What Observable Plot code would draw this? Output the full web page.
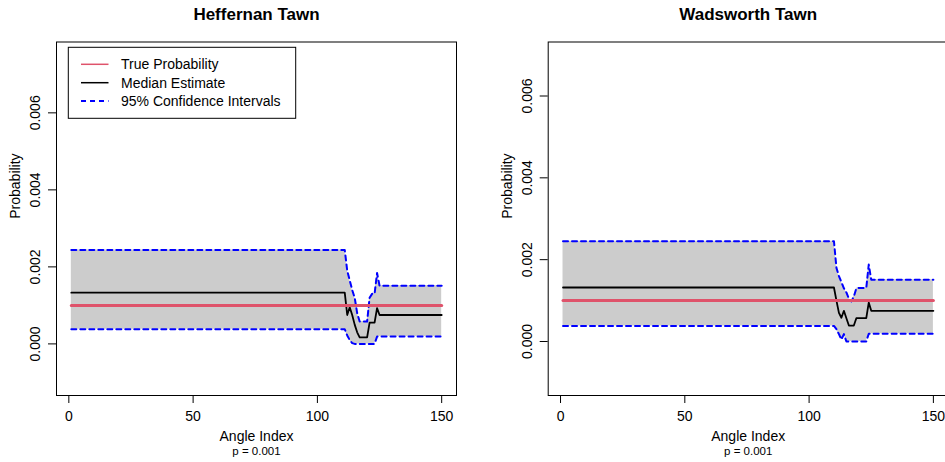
<!DOCTYPE html>
<html>
<head>
<meta charset="utf-8">
<script src="https://cdn.jsdelivr.net/npm/d3@7"></script>
<script src="https://cdn.jsdelivr.net/npm/@observablehq/plot@0.6"></script>
<style>
  html, body { margin: 0; padding: 0; background: white; }
  #wrap { position: relative; width: 945px; height: 462px; overflow: hidden; background: white; }
  #wrap > svg { position: absolute; top: 0; }
</style>
</head>
<body>
<div id="wrap"></div>
<script>
// ---- data ----
const angleIndex = [1,110,111,112,113,114,115,116,117,118,119,120,121,122,123,124,125,150];
const trueProbability = 0.001;

const htUpper  = [0.00244,0.00244,0.00244,0.0019,0.00165,0.0014,0.0012,0.0008,0.00058,0.00058,0.00058,0.00058,0.0012,0.0013,0.0013,0.00184,0.00151,0.00151];
const htMedian = [0.00133,0.00133,0.00133,0.00075,0.00095,0.00075,0.0005,0.0003,0.00017,0.00017,0.00017,0.00017,0.00055,0.00055,0.00055,0.00093,0.00075,0.00075];
const htLower  = [0.00038,0.00038,0.00038,0.00022,0.0001,0.00002,0,0,0,0,0,0,0,0,0,0.00019,0.00019,0.00019];

const wtUpper  = [0.00245,0.00245,0.0018,0.0016,0.00145,0.0013,0.0012,0.00105,0.00098,0.0011,0.0013,0.00131,0.00131,0.00131,0.00131,0.00188,0.00151,0.00151];
const wtMedian = [0.00132,0.00132,0.001,0.0007,0.00058,0.00075,0.00057,0.00039,0.00039,0.00039,0.00057,0.00057,0.00057,0.00057,0.00057,0.00095,0.00075,0.00075];
const wtLower  = [0.00038,0.00038,0.0003,0.00018,0.00005,0.00018,0,0,0,0,0,0,0,0,0,0.00019,0.00019,0.00019];

const panelTitles = ["Heffernan Tawn", "Wadsworth Tawn"];
const xTicks = [0, 50, 100, 150];
const yTicks = [0, 0.002, 0.004, 0.006];
const xLabel = "Angle Index";
const yLabel = "Probability";
const subLabel = "p = 0.001";
const legendLabels = ["True Probability", "Median Estimate", "95% Confidence Intervals"];

// ---- drawing ----
const FONT = "'Liberation Sans', Arial, Helvetica, sans-serif";
const RED = "#DF536B";

function panel({title, upper, median, lower, yDomain, width, marginLeft, marginRight}) {
  const rows = angleIndex.map((x, i) => ({x, upper: upper[i], median: median[i], lower: lower[i]}));
  return Plot.plot({
    width, height: 462,
    marginTop: 41.5, marginBottom: 67, marginLeft, marginRight,
    x: {domain: [-4.96, 155.96], label: null},
    y: {domain: yDomain, label: null},
    style: {fontFamily: FONT, fontSize: "14px", color: "black", background: "transparent", overflow: "visible"},
    marks: [
      Plot.areaY(rows, {x: "x", y1: "lower", y2: "upper", fill: "#cccccc"}),
      Plot.line(rows, {x: "x", y: "upper", stroke: "blue", strokeWidth: 2, strokeDasharray: "5,4"}),
      Plot.line(rows, {x: "x", y: "lower", stroke: "blue", strokeWidth: 2, strokeDasharray: "5,4"}),
      Plot.line(rows, {x: "x", y: "median", stroke: "black", strokeWidth: 1.8}),
      Plot.line(rows, {x: "x", y: () => trueProbability, stroke: RED, strokeWidth: 3}),
      Plot.frame({stroke: "black", strokeWidth: 1}),
      Plot.axisX({ticks: xTicks, tickSize: 8, tickPadding: 8, fontSize: 14, label: null}),
      Plot.axisY({ticks: yTicks, tickSize: 8, tickFormat: () => "", label: null}),
      Plot.text(yTicks, {y: d => d, frameAnchor: "left", dx: -21, rotate: -90, text: d => d3.format(".3f")(d),
                         fontSize: 14, textAnchor: "middle", lineAnchor: "middle"}),
      Plot.text([yLabel], {frameAnchor: "left", dx: -41, rotate: -90, fontSize: 14, lineAnchor: "middle"}),
      Plot.text([xLabel], {frameAnchor: "bottom", dy: 40.7, fontSize: 14, lineAnchor: "middle"}),
      Plot.text([subLabel], {frameAnchor: "bottom", dy: 56, fontSize: 11.5, lineAnchor: "middle"}),
      Plot.text([title], {frameAnchor: "top", dy: -27.5, fontSize: 17, fontWeight: "bold", lineAnchor: "middle"})
    ]
  });
}

const wrap = document.getElementById("wrap");

const left = panel({title: panelTitles[0], upper: htUpper, median: htMedian, lower: htLower,
  yDomain: [-0.00134, 0.00784], width: 472, marginLeft: 56, marginRight: 16});
left.style.left = "0px";
wrap.appendChild(left);

const right = panel({title: panelTitles[1], upper: wtUpper, median: wtMedian, lower: wtLower,
  yDomain: [-0.00132, 0.00732], width: 480, marginLeft: 75.7, marginRight: 4.3});
right.style.left = "472px";
wrap.appendChild(right);

// legend (left panel, top-left)
const lg = d3.select(left).append("g").attr("font-family", FONT).attr("font-size", 14)
  .attr("text-anchor", "start");
lg.append("rect").attr("x", 68.3).attr("y", 47.3).attr("width", 227.4).attr("height", 71)
  .attr("fill", "white").attr("stroke", "black").attr("stroke-width", 1);
const legendStyles = [
  {stroke: RED, width: 1.5, dash: null},
  {stroke: "black", width: 1.5, dash: null},
  {stroke: "blue", width: 2, dash: "5,4"}
];
legendLabels.forEach((lab, i) => {
  const yy = 64.3 + i * 18.4;
  const s = legendStyles[i];
  const ln = lg.append("line").attr("x1", 81).attr("x2", 108.5).attr("y1", yy).attr("y2", yy)
    .attr("stroke", s.stroke).attr("stroke-width", s.width);
  if (s.dash) ln.attr("stroke-dasharray", s.dash);
  lg.append("text").attr("x", 121).attr("y", yy).attr("dy", "0.35em")
    .attr("text-anchor", "start").attr("fill", "black").text(lab);
});
</script>
</body>
</html>
